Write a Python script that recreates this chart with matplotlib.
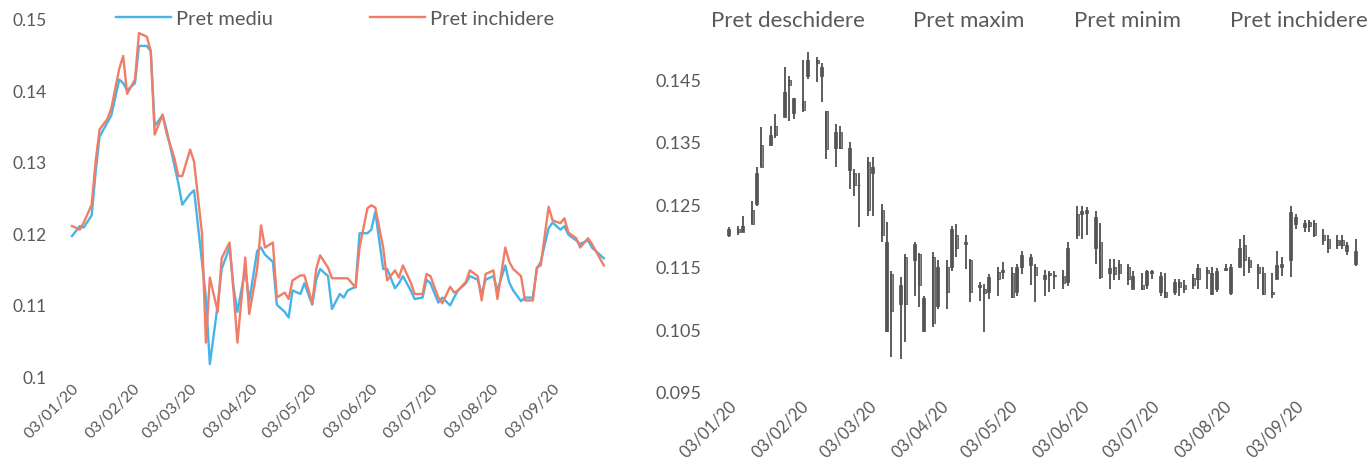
import pandas as pd
import matplotlib
matplotlib.use("Agg")
import matplotlib.pyplot as plt
import matplotlib.dates as mdates
from matplotlib.lines import Line2D

# --- date (la 2 zile lucratoare) ---------------------------------------------
date = pd.bdate_range("2020-01-03", "2020-09-29", freq="2B")

pret_inchidere = [
    0.1210, 0.1205, 0.1215, 0.1240, 0.1300, 0.1345, 0.1360, 0.1375, 0.1430, 0.1448, 0.1395,
    0.1415, 0.1480, 0.1475, 0.1455, 0.1338, 0.1366, 0.1340, 0.1305, 0.1280, 0.1280,
    0.1317, 0.1300, 0.1200, 0.1047, 0.1138, 0.1090, 0.1165, 0.1187, 0.1120, 0.1047, 0.1166,
    0.1087, 0.1150, 0.1211, 0.1180, 0.1187, 0.1110, 0.1117, 0.1108, 0.1134, 0.1141, 0.1141,
    0.1102, 0.1150, 0.1169, 0.1152, 0.1137, 0.1137, 0.1137, 0.1137, 0.1124, 0.1180,
    0.1235, 0.1239, 0.1236, 0.1180, 0.1134, 0.1148, 0.1138, 0.1155, 0.1131, 0.1115, 0.1115,
    0.1143, 0.1140, 0.1110, 0.1102, 0.1125, 0.1117, 0.1120, 0.1132, 0.1148, 0.1140, 0.1106, 0.1143,
    0.1148, 0.1108, 0.1180, 0.1160, 0.1150, 0.1140, 0.1106, 0.1106, 0.1152, 0.1155,
    0.1237, 0.1218, 0.1214, 0.1221, 0.1201, 0.1193, 0.1180, 0.1193, 0.1185, 0.1175, 0.1155,
]
pret_mediu = [
    0.1196, 0.1210, 0.1208, 0.1225, 0.1285, 0.1335, 0.1355, 0.1365, 0.1415, 0.1410, 0.1400,
    0.1410, 0.1462, 0.1462, 0.1455, 0.1350, 0.1365, 0.1345, 0.1295, 0.1270, 0.1240,
    0.1255, 0.1260, 0.1160, 0.1110, 0.1017, 0.1100, 0.1150, 0.1180, 0.1125, 0.1090, 0.1150,
    0.1105, 0.1175, 0.1180, 0.1170, 0.1160, 0.1100, 0.1090, 0.1082, 0.1120, 0.1115, 0.1130,
    0.1100, 0.1135, 0.1150, 0.1140, 0.1094, 0.1115, 0.1110, 0.1120, 0.1125, 0.1200,
    0.1200, 0.1205, 0.1230, 0.1150, 0.1150, 0.1123, 0.1130, 0.1140, 0.1120, 0.1108, 0.1110,
    0.1135, 0.1130, 0.1103, 0.1110, 0.1099, 0.1110, 0.1120, 0.1130, 0.1140, 0.1135, 0.1115, 0.1135,
    0.1140, 0.1120, 0.1155, 0.1131, 0.1120, 0.1105, 0.1110, 0.1110, 0.1150, 0.1160,
    0.1207, 0.1215, 0.1205, 0.1210, 0.1198, 0.1190, 0.1185, 0.1190, 0.1180, 0.1175, 0.1165,
]
pret_deschidere = [
    0.1200, 0.1210, 0.1205, 0.1218, 0.1250, 0.1310, 0.1345, 0.1360, 0.1390, 0.1440, 0.1420,
    0.1400, 0.1455, 0.1480, 0.1470, 0.1399, 0.1340, 0.1365, 0.1340, 0.1300, 0.1280,
    0.1240, 0.1310, 0.1240, 0.1190, 0.1080, 0.1120, 0.1090, 0.1160, 0.1170, 0.1100, 0.1060,
    0.1150, 0.1110, 0.1150, 0.1200, 0.1190, 0.1160, 0.1120, 0.1115, 0.1110, 0.1130, 0.1145,
    0.1140, 0.1110, 0.1150, 0.1165, 0.1150, 0.1130, 0.1140, 0.1135, 0.1135, 0.1125,
    0.1200, 0.1235, 0.1240, 0.1230, 0.1190, 0.1140, 0.1150, 0.1140, 0.1150, 0.1135, 0.1120,
    0.1120, 0.1143, 0.1135, 0.1110, 0.1110, 0.1125, 0.1115, 0.1120, 0.1130, 0.1145, 0.1140, 0.1115,
    0.1145, 0.1150, 0.1150, 0.1185, 0.1160, 0.1150, 0.1140, 0.1110, 0.1130, 0.1150,
    0.1160, 0.1230, 0.1220, 0.1215, 0.1220, 0.1200, 0.1195, 0.1185, 0.1192, 0.1185, 0.1175,
]
pret_maxim = [
    0.1213, 0.1215, 0.1231, 0.1255, 0.1310, 0.1373, 0.1375, 0.1394, 0.1469, 0.1455, 0.1420,
    0.1480, 0.1494, 0.1485, 0.1475, 0.1399, 0.1378, 0.1375, 0.1350, 0.1306, 0.1300,
    0.1325, 0.1325, 0.1250, 0.1222, 0.1143, 0.1134, 0.1170, 0.1190, 0.1172, 0.1103, 0.1174,
    0.1160, 0.1160, 0.1215, 0.1218, 0.1200, 0.1163, 0.1125, 0.1123, 0.1139, 0.1150, 0.1158,
    0.1150, 0.1155, 0.1175, 0.1170, 0.1155, 0.1145, 0.1143, 0.1143, 0.1145, 0.1190,
    0.1247, 0.1247, 0.1245, 0.1239, 0.1220, 0.1163, 0.1163, 0.1160, 0.1155, 0.1143, 0.1140,
    0.1145, 0.1145, 0.1142, 0.1140, 0.1130, 0.1130, 0.1128, 0.1138, 0.1155, 0.1150, 0.1150, 0.1148,
    0.1155, 0.1155, 0.1194, 0.1200, 0.1165, 0.1155, 0.1150, 0.1140, 0.1175, 0.1165,
    0.1247, 0.1234, 0.1225, 0.1225, 0.1225, 0.1210, 0.1200, 0.1200, 0.1200, 0.1190, 0.1194,
]
pret_minim = [
    0.1198, 0.1200, 0.1205, 0.1218, 0.1247, 0.1310, 0.1343, 0.1355, 0.1390, 0.1383, 0.1386,
    0.1397, 0.1450, 0.1445, 0.1413, 0.1322, 0.1310, 0.1338, 0.1274, 0.1263, 0.1214,
    0.1231, 0.1231, 0.1190, 0.1045, 0.1005, 0.1003, 0.1030, 0.1103, 0.1086, 0.1045, 0.1054,
    0.1083, 0.1083, 0.1143, 0.1166, 0.1147, 0.1094, 0.1095, 0.1046, 0.1099, 0.1103, 0.1130,
    0.1100, 0.1103, 0.1139, 0.1120, 0.1094, 0.1103, 0.1110, 0.1115, 0.1115, 0.1119,
    0.1194, 0.1194, 0.1200, 0.1155, 0.1130, 0.1115, 0.1128, 0.1128, 0.1120, 0.1115, 0.1112,
    0.1115, 0.1130, 0.1103, 0.1100, 0.1105, 0.1103, 0.1108, 0.1115, 0.1115, 0.1115, 0.1105, 0.1110,
    0.1143, 0.1105, 0.1150, 0.1135, 0.1140, 0.1115, 0.1105, 0.1100, 0.1130, 0.1135,
    0.1134, 0.1210, 0.1205, 0.1205, 0.1198, 0.1185, 0.1172, 0.1178, 0.1178, 0.1168, 0.1151,
]

assert len(date) == len(pret_inchidere) == len(pret_mediu) == len(pret_deschidere) \
    == len(pret_maxim) == len(pret_minim)

ticks_y_stanga = [0.10, 0.11, 0.12, 0.13, 0.14, 0.15]
ticks_y_dreapta = [0.095, 0.105, 0.115, 0.125, 0.135, 0.145]

GRI = "#595959"
ALBASTRU = "#45b4e6"
ROSU = "#f07d68"

plt.rcParams["font.family"] = ["Lato", "DejaVu Sans"]

fig = plt.figure(figsize=(13.67, 4.60), dpi=100)
fig.patch.set_facecolor("white")

ax1 = fig.add_axes([0.044, 0.180, 0.402, 0.777])
ax2 = fig.add_axes([0.523, 0.146, 0.474, 0.748])

x_min = pd.Timestamp("2019-12-28")
x_max = pd.Timestamp("2020-10-02")

# --- graficul din stanga: pret mediu / pret inchidere ------------------------
ax1.plot(date, pret_mediu, color=ALBASTRU, lw=1.7, label="Pret mediu")
ax1.plot(date, pret_inchidere, color=ROSU, lw=1.7, label="Pret inchidere")
ax1.set_ylim(0.10, 0.15)
ax1.set_yticks(ticks_y_stanga)
ax1.set_yticklabels([f"{v:g}" for v in ticks_y_stanga])
ax1.set_xlim(x_min, x_max)
ax1.legend(loc="center", bbox_to_anchor=(0.5, 1.0), ncol=2, frameon=False,
           fontsize=14.5, handlelength=2.75, handletextpad=0.25, columnspacing=4.8,
           labelcolor=GRI)

# --- graficul din dreapta: bursier (deschidere/maxim/minim/inchidere) --------
ax2.vlines(date, pret_minim, pret_maxim, color="#505050", lw=1.3)
corp_jos = [min(o, c) for o, c in zip(pret_deschidere, pret_inchidere)]
corp_inalt = [abs(o - c) for o, c in zip(pret_deschidere, pret_inchidere)]
ax2.bar(date, corp_inalt, bottom=corp_jos, width=1.3, color="#8c8c8c",
        edgecolor="#404040", linewidth=0.5)
ax2.set_ylim(0.095, 0.15)
ax2.set_yticks(ticks_y_dreapta)
ax2.set_yticklabels([f"{v:g}" for v in ticks_y_dreapta])
ax2.set_xlim(x_min, x_max)
gol = [Line2D([], [], linestyle="none") for _ in range(4)]
ax2.legend(gol, ["Pret deschidere", "Pret maxim", "Pret minim", "Pret inchidere"],
           loc="center", bbox_to_anchor=(0.5, 1.08), ncol=4, frameon=False,
           fontsize=16, handlelength=0, handletextpad=0, columnspacing=2.2,
           labelcolor=GRI)

for ax, fs in ((ax1, 11.5), (ax2, 12)):
    for s in ax.spines.values():
        s.set_visible(False)
    ax.xaxis.set_major_locator(mdates.MonthLocator(bymonthday=3))
    ax.xaxis.set_major_formatter(mdates.DateFormatter("%d/%m/%y"))
    ax.tick_params(axis="both", length=0, colors=GRI, labelsize=fs)
    ax.tick_params(axis="y", pad=10)
    for lbl in ax.get_xticklabels():
        lbl.set_rotation(45)
        lbl.set_ha("right")
        lbl.set_va("top")
        lbl.set_rotation_mode("anchor")
ax2.tick_params(axis="y", labelsize=13)
ax1.tick_params(axis="y", labelsize=12.5)

fig.savefig("out.png", dpi=100)
